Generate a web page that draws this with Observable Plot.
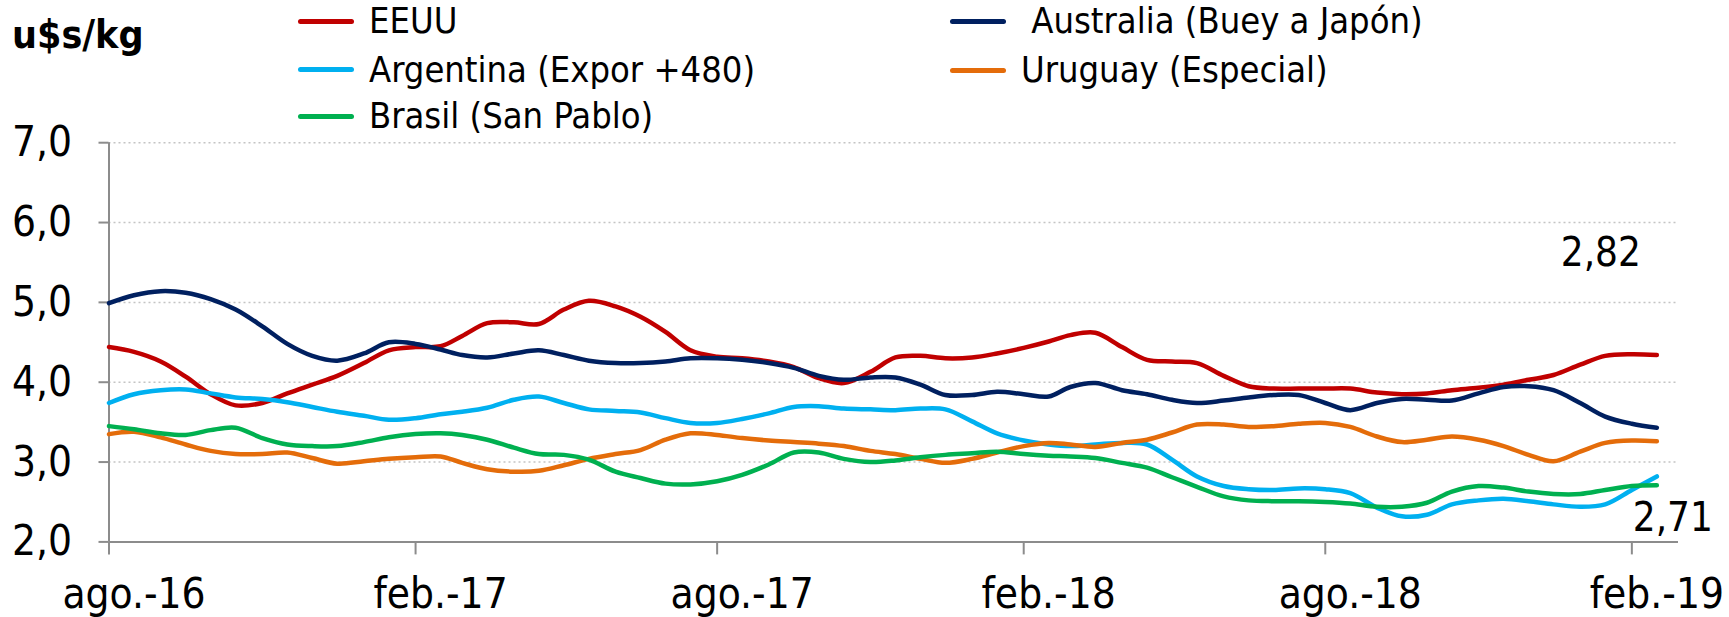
<!DOCTYPE html>
<html>
<head>
<meta charset="utf-8">
<script src="https://cdn.jsdelivr.net/npm/d3@7"></script>
<script src="https://cdn.jsdelivr.net/npm/@observablehq/plot@0.6"></script>
<style>
  body { margin: 0; background: #fff; }
  #wrap { position: relative; width: 1729px; height: 617px; overflow: hidden; background:#fff;
          font-family: "DejaVu Sans Condensed", "DejaVu Sans", sans-serif; font-stretch: condensed; color:#000; }
  #head { position: absolute; left: 0; top: 0; width: 1729px; height: 128px; z-index: 2; }
  #chart { position: absolute; left: 0; top: 128px; z-index: 1; }
  .unit { position: absolute; left: 12px; top: 15px; font-size: 39px; line-height: 39px; font-weight: bold; }
  .item { position: absolute; font-size: 36px; line-height: 36px; height: 36px; display: flex; align-items: center; white-space: pre; }
  .sw { display: inline-block; width: 56px; height: 5px; border-radius: 3px; margin-right: 15px; }
</style>
</head>
<body>
<div id="wrap">
  <div id="head"></div>
  <div id="chart"></div>
</div>
<script>
// ---- data ----
const dates = [
  "2016-08-01","2016-08-16","2016-09-01","2016-09-16","2016-10-01","2016-10-16","2016-11-01","2016-11-16",
  "2016-12-01","2016-12-16","2017-01-01","2017-01-16","2017-02-01","2017-02-16","2017-03-01","2017-03-16",
  "2017-04-01","2017-04-16","2017-05-01","2017-05-16","2017-06-01","2017-06-16","2017-07-01","2017-07-16",
  "2017-08-01","2017-08-16","2017-09-01","2017-09-16","2017-10-01","2017-10-16","2017-11-01","2017-11-16",
  "2017-12-01","2017-12-16","2018-01-01","2018-01-16","2018-02-01","2018-02-16","2018-03-01","2018-03-16",
  "2018-04-01","2018-04-16","2018-05-01","2018-05-16","2018-06-01","2018-06-16","2018-07-01","2018-07-16",
  "2018-08-01","2018-08-16","2018-09-01","2018-09-16","2018-10-01","2018-10-16","2018-11-01","2018-11-16",
  "2018-12-01","2018-12-16","2019-01-01","2019-01-16","2019-02-01","2019-02-16"
];

const eeuu = [4.44,4.38,4.26,4.07,3.85,3.71,3.74,3.86,3.97,4.08,4.24,4.40,4.44,4.45,4.58,4.74,
  4.75,4.73,4.91,5.02,4.95,4.82,4.63,4.40,4.32,4.30,4.26,4.19,4.05,3.99,4.13,4.31,
  4.33,4.30,4.31,4.36,4.43,4.51,4.59,4.62,4.44,4.28,4.26,4.24,4.08,3.95,3.92,3.92,
  3.92,3.92,3.87,3.85,3.86,3.90,3.93,3.97,4.03,4.09,4.22,4.33,4.35,4.34];

const australia = [4.99,5.09,5.14,5.12,5.04,4.91,4.70,4.48,4.33,4.27,4.36,4.50,4.48,4.41,4.34,4.31,
  4.36,4.40,4.34,4.27,4.24,4.24,4.26,4.30,4.30,4.28,4.24,4.18,4.08,4.03,4.06,4.06,
  3.97,3.84,3.84,3.88,3.85,3.82,3.94,3.99,3.90,3.85,3.78,3.74,3.77,3.81,3.84,3.84,
  3.74,3.65,3.74,3.79,3.78,3.77,3.86,3.94,3.95,3.90,3.74,3.57,3.48,3.43];

const argentina = [3.74,3.85,3.90,3.91,3.86,3.81,3.79,3.75,3.69,3.63,3.58,3.53,3.55,3.60,3.63,3.68,
  3.78,3.82,3.74,3.66,3.64,3.62,3.55,3.49,3.49,3.54,3.61,3.69,3.70,3.67,3.66,3.65,
  3.67,3.66,3.51,3.36,3.27,3.22,3.20,3.22,3.24,3.22,3.03,2.82,2.70,2.66,2.65,2.67,
  2.66,2.61,2.43,2.32,2.34,2.47,2.52,2.54,2.51,2.47,2.44,2.47,2.65,2.82];

const uruguay = [3.35,3.38,3.31,3.22,3.14,3.10,3.10,3.12,3.05,2.98,3.01,3.04,3.06,3.07,2.99,2.91,
  2.88,2.89,2.96,3.04,3.10,3.15,3.28,3.36,3.34,3.30,3.27,3.25,3.23,3.20,3.14,3.10,
  3.04,2.99,3.04,3.12,3.20,3.24,3.22,3.19,3.24,3.28,3.37,3.47,3.47,3.44,3.45,3.48,
  3.49,3.44,3.32,3.25,3.28,3.32,3.28,3.20,3.09,3.01,3.13,3.24,3.27,3.26];

const brasil = [3.45,3.41,3.36,3.34,3.40,3.43,3.30,3.22,3.20,3.20,3.25,3.31,3.35,3.36,3.34,3.28,
  3.18,3.10,3.09,3.03,2.88,2.80,2.73,2.72,2.76,2.84,2.97,3.12,3.12,3.04,3.00,3.02,
  3.06,3.09,3.11,3.13,3.10,3.08,3.07,3.05,2.99,2.93,2.81,2.69,2.57,2.52,2.51,2.51,
  2.50,2.48,2.44,2.44,2.49,2.63,2.70,2.68,2.63,2.60,2.60,2.65,2.70,2.71];

const seriesNames = ["EEUU", " Australia (Buey a Japón)", "Argentina (Expor +480)", "Uruguay (Especial)", "Brasil (San Pablo)"];
const seriesColors = ["#C00000", "#002060", "#00B0F0", "#E46C0A", "#00B050"];
const seriesValues = [eeuu, australia, argentina, uruguay, brasil];

const yTicks = [2, 3, 4, 5, 6, 7];
const xTickDates = ["2016-08-01","2017-02-01","2017-08-01","2018-02-01","2018-08-01","2019-02-01"];
const xTickLabels = ["ago.-16","feb.-17","ago.-17","feb.-18","ago.-18","feb.-19"];
const xDomain = ["2016-08-01","2019-03-01"];
const unitLabel = "u$s/kg";

// ---- legend (HTML, above the svg) ----
const head = document.getElementById("head");
const u = document.createElement("div"); u.className = "unit"; u.textContent = unitLabel; head.appendChild(u);
const legendPos = [ // [left, centerY] of each legend entry
  [298, 21], [950, 21], [298, 69.5], [950, 70], [298, 116]
];
seriesNames.forEach((name, i) => {
  const it = document.createElement("div"); it.className = "item";
  it.style.left = legendPos[i][0] + "px";
  it.style.top = (legendPos[i][1] - 18) + "px";
  const sw = document.createElement("span"); sw.className = "sw"; sw.style.background = seriesColors[i];
  const tx = document.createElement("span"); tx.textContent = name;
  it.appendChild(sw); it.appendChild(tx); head.appendChild(it);
});

// ---- chart ----
const parse = d3.utcParse("%Y-%m-%d");
const rows = [];
seriesValues.forEach((vals, s) => vals.forEach((v, i) => rows.push({date: parse(dates[i]), value: v, series: seriesNames[s], color: seriesColors[s]})));
const tickDates = xTickDates.map(parse);
const labelOf = new Map(tickDates.map((d, i) => [+d, xTickLabels[i]]));
const fmt = v => v.toFixed(2).replace(".", ",");
const last = dates.length - 1;
const endArg = [{date: parse(dates[last]), value: argentina[last]}];
const endBra = [{date: parse(dates[last]), value: brasil[last]}];
const font = '"DejaVu Sans Condensed", "DejaVu Sans", sans-serif';

const chart = Plot.plot({
  width: 1729,
  height: 489,
  marginLeft: 108.5,
  marginRight: 51,
  marginTop: 14.2,
  marginBottom: 75.6,
  style: {background: "transparent", fontFamily: font, overflow: "visible", color: "#000"},
  x: {type: "utc", domain: xDomain.map(parse)},
  y: {domain: [yTicks[0], yTicks[yTicks.length - 1]]},
  marks: [
    Plot.gridY(yTicks.slice(1), {stroke: "#c4c4c4", strokeOpacity: 1, strokeWidth: 1.5, strokeDasharray: "2,3"}),
    Plot.axisY(yTicks, {tickFormat: d => d.toFixed(1).replace(".", ","), tickSize: 10, tickPadding: 27, fontSize: 42, stroke: "#8c8c8c", strokeWidth: 2, label: null}),
    // tick marks only
    Plot.axisX(tickDates, {tickFormat: () => "", tickSize: 13, stroke: "#8c8c8c", strokeWidth: 2, label: null}),
    // tick labels only, offset to the right of the ticks as in the reference
    Plot.axisX(tickDates, {tickFormat: d => labelOf.get(+d), tickSize: 0, tickPadding: 36, fontSize: 42, dx: 25, label: null}),
    Plot.ruleX([parse(xDomain[0])], {stroke: "#8c8c8c", strokeWidth: 2}),
    Plot.ruleY([yTicks[0]], {stroke: "#8c8c8c", strokeWidth: 2}),
    Plot.line(rows, {x: "date", y: "value", z: "series", stroke: "color", strokeWidth: 4.5, curve: "catmull-rom", strokeLinecap: "round", strokeLinejoin: "round"}),
    Plot.text(endArg, {x: "date", y: "value", text: d => fmt(d.value), dx: -56, dy: -223, fontSize: 40, fill: "#000"}),
    Plot.text(endBra, {x: "date", y: "value", text: d => fmt(d.value), dx: 16, dy: 33, fontSize: 40, fill: "#000"})
  ]
});
document.getElementById("chart").appendChild(chart);
</script>
</body>
</html>
